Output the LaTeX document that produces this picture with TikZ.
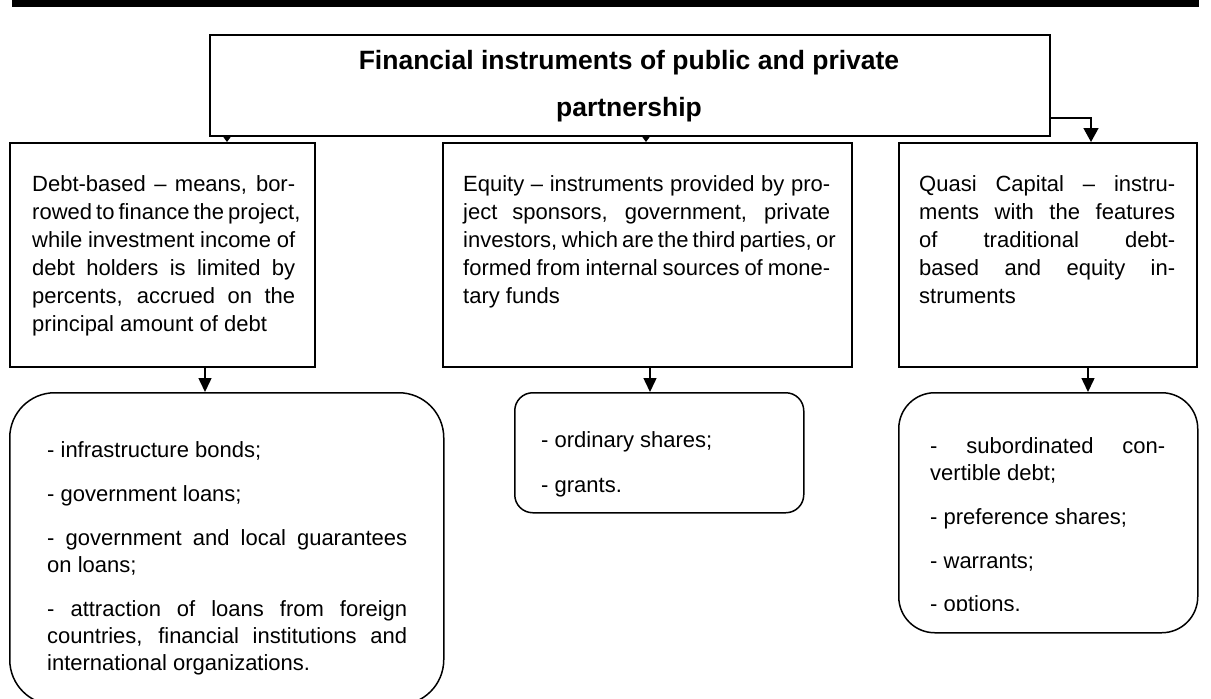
\documentclass[tikz,border=0pt]{standalone}
\usepackage{fontspec}
\setmainfont{Liberation Sans}
\usetikzlibrary{arrows.meta,calc}
\setlength{\parindent}{0pt}
\newcommand{\jline}[1]{\makebox[\hsize][s]{#1}\par}
\newcommand{\pgap}{\par\vspace{17pt}}
\begin{document}
\begin{tikzpicture}[x=1pt,y=-1pt,
  box/.style={draw, line width=1.5pt, rectangle, anchor=north west, inner sep=0pt},
  rbox/.style={box, rounded corners=#1},
  midtxt/.style={anchor=north west, inner sep=0pt, align=justify, font=\fontsize{22}{28}\selectfont},
  listtxt/.style={anchor=north west, inner sep=0pt, align=justify, font=\fontsize{22}{27}\selectfont},
  ttl/.style={anchor=north, inner sep=0pt, align=center, font=\fontsize{26.5}{47}\selectfont\bfseries},
  tinyarr/.style={line width=1.4pt, -{Triangle[length=5pt,width=7pt]}},
  midarr/.style={line width=1.5pt, -{Triangle[length=14pt,width=13pt]}},
  bigarr/.style={line width=1.5pt, -{Triangle[length=14pt,width=15pt]}}
]
\useasboundingbox (0,0) rectangle (1211,699);
\fill (12,0) rectangle (1199,7);

% boxes
\node[box, minimum width=840pt, minimum height=101pt] (top) at (209,34) {};
\node[box, minimum width=305pt, minimum height=224pt] (debt) at (9,142) {};
\node[box, minimum width=409pt, minimum height=224pt] (equity) at (442,142) {};
\node[box, minimum width=298pt, minimum height=224pt] (quasi) at (898,142) {};
\node[rbox=45pt, minimum width=434pt, minimum height=312pt] (dlist) at (9,392) {};
\node[rbox=18pt, minimum width=289pt, minimum height=120pt] (elist) at (514,392) {};
\node[rbox=36pt, minimum width=299pt, minimum height=240pt] (qlist) at (898,392) {};

% title
\node[ttl] (ttltxt) at (629,50) {Financial instruments of public and private\\partnership};

% middle texts
\node[midtxt, text width=263pt] (debttxt) at (32,175) {%
\jline{Debt-based – means, bor-}%
\jline{rowed to finance the project,}%
\jline{while investment income of}%
\jline{debt holders is limited by}%
\jline{percents, accrued on the}%
principal amount of debt};

\node[midtxt, text width=367pt] (eqtxt) at (463,175) {%
\jline{Equity – instruments provided by pro-}%
\jline{ject sponsors, government, private}%
\jline{investors, which are the third parties, or}%
\jline{formed from internal sources of mone-}%
tary funds};

\node[midtxt, text width=256pt] (qtxt) at (919,175) {%
\jline{Quasi Capital – instru-}%
\jline{ments with the features}%
\jline{of traditional debt-}%
\jline{based and equity in-}%
struments};

% list texts
\node[listtxt, text width=360pt] (dltxt) at (47,441) {%
- infrastructure bonds;\pgap
- government loans;\pgap
\jline{- government and local guarantees}%
on loans;\pgap
\jline{- attraction of loans from foreign}%
\jline{countries, financial institutions and}%
international organizations.};

\node[listtxt, text width=240pt] (eltxt) at (541,431) {%
- ordinary shares;\par\vspace{18pt}
- grants.};

\begin{scope}
\clip (880,380) rectangle (1211,610);
\node[listtxt, text width=235pt] (qltxt) at (930,437) {%
\jline{- subordinated con-}%
vertible debt;\par\vspace{17pt}
- preference shares;\par\vspace{17pt}
- warrants;\par\vspace{16pt}
- options.};
\end{scope}

% connectors
\coordinate (t1) at (227,0);
\coordinate (t2) at (646,0);
\coordinate (elb) at (1091,118);
\draw[tinyarr] (top.south -| t1) -- (debt.north -| t1);
\draw[tinyarr] (top.south -| t2) -- (equity.north -| t2);
\draw[bigarr] (top.east |- elb) -| (elb |- quasi.north);

\coordinate (m1) at (205,0);
\coordinate (m2) at (650,0);
\coordinate (m3) at (1088,0);
\draw[midarr] (debt.south -| m1) -- (dlist.north -| m1);
\draw[midarr] (equity.south -| m2) -- (elist.north -| m2);
\draw[midarr] (quasi.south -| m3) -- (qlist.north -| m3);
\end{tikzpicture}
\end{document}
